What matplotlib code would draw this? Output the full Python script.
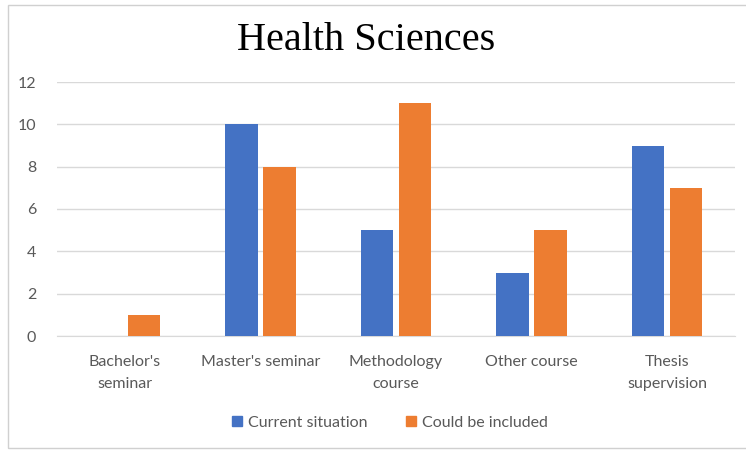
import matplotlib
matplotlib.use("Agg")
import matplotlib.pyplot as plt
from matplotlib.patches import Rectangle, Patch
import numpy as np

categories = ["Bachelor's\nseminar", "Master's seminar", "Methodology\ncourse",
              "Other course", "Thesis\nsupervision"]
current = [0, 10, 5, 3, 9]
could_be = [1, 8, 11, 5, 7]
series_names = ["Current situation", "Could be included"]

blue = "#4472C4"
orange = "#ED7D31"
grey_text = "#595959"
grid_col = "#D9D9D9"

plt.rcParams["font.family"] = ["Lato", "DejaVu Sans"]

fig = plt.figure(figsize=(7.46, 4.5), dpi=100)
# chart frame
fig.patches.append(Rectangle((8 / 746, 2 / 450), 745 / 746, 443 / 450,
                             transform=fig.transFigure, fill=False,
                             edgecolor="#D0D0D0", linewidth=1.0))

ax = fig.add_axes([57 / 746, (450 - 336) / 450, 678 / 746, (336 - 82) / 450])

x = np.arange(len(categories))
w = 0.24
ax.bar(x - 0.14, current, w, color=blue, zorder=3)
ax.bar(x + 0.14, could_be, w, color=orange, zorder=3)

ax.set_xlim(-0.5, len(categories) - 0.5)
ax.set_ylim(0, 12)
ax.set_yticks(range(0, 13, 2))
ax.yaxis.grid(True, color=grid_col, linewidth=1.0, zorder=0)
for s in ["top", "right", "left"]:
    ax.spines[s].set_visible(False)
ax.spines["bottom"].set_color(grid_col)
ax.tick_params(axis="both", length=0, colors=grey_text, labelsize=11.5)
ax.tick_params(axis="y", pad=15)
ax.tick_params(axis="x", pad=14)
ax.set_xticks(x)
ax.set_xticklabels(categories, linespacing=1.65)

fig.text(366 / 746, 1 - 41 / 450, "Health Sciences", ha="center", va="center",
         fontsize=29, family=["Liberation Serif", "DejaVu Serif"], color="black")

handles = [Patch(color=blue), Patch(color=orange)]
fig.legend(handles, series_names, loc="center", bbox_to_anchor=(390 / 746, 1 - 423 / 450),
           ncol=2, frameon=False, fontsize=11.5, labelcolor=grey_text,
           handlelength=0.6, handleheight=0.6, handletextpad=0.4, columnspacing=2.4)

fig.savefig("out.png", dpi=100)
